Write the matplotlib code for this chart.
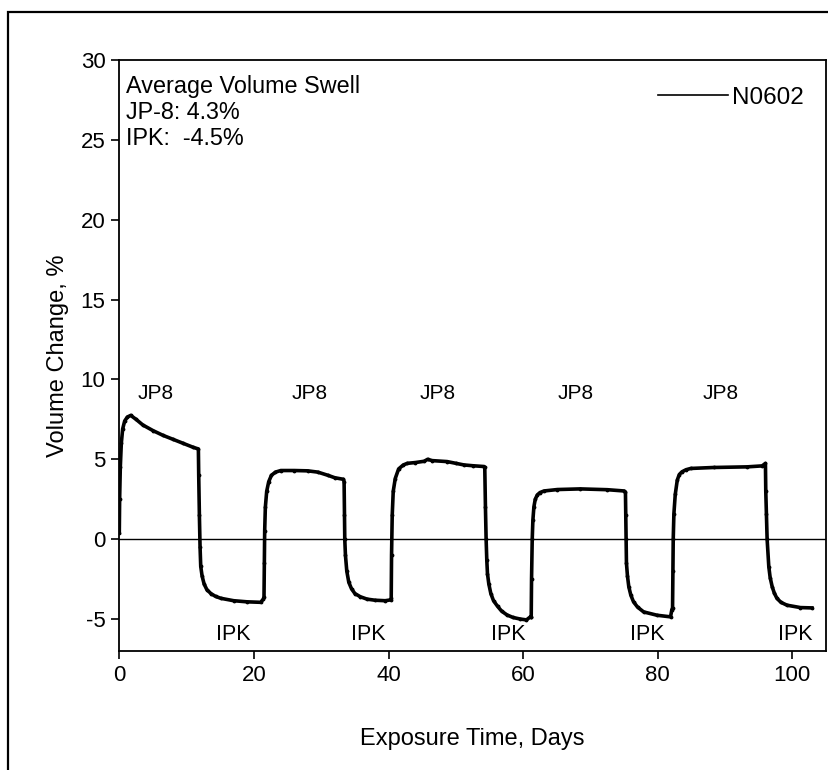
import matplotlib.pyplot as plt
from matplotlib.lines import Line2D
from matplotlib.patches import Rectangle

plt.rcParams['font.family'] = ['Liberation Sans', 'DejaVu Sans']
plt.rcParams['axes.unicode_minus'] = False

# exposure time (days) and volume change (%), cycle by cycle
days = [
    # JP8 1
    0, 0.05, 0.15, 0.3, 0.5, 0.8, 1.2, 1.7, 2.5, 3.5, 5, 6.5, 8, 9.5, 11, 11.75,
    # IPK 1
    11.8, 11.9, 12.0, 12.1, 12.3, 12.6, 13.0, 13.6, 14.3, 15.1, 17.0, 19.0, 21.0, 21.4,
    # JP8 2
    21.5, 21.55, 21.6, 21.7, 21.9, 22.2, 22.6, 23.2, 24, 26, 28, 29.5, 31, 32, 33.3,
    # IPK 2
    33.4, 33.45, 33.5, 33.6, 33.8, 34.1, 34.5, 35.0, 35.8, 36.8, 38, 39.5, 40.3,
    # JP8 3
    40.4, 40.45, 40.55, 40.7, 41.0, 41.5, 42.2, 42.8, 44, 45.3, 45.8, 46.5, 48.7, 50, 51.2, 52.5, 54.2,
    # IPK 3
    54.3, 54.4, 54.5, 54.6, 54.7, 54.9, 55.2, 55.6, 56.2, 56.8, 57.6, 58.5, 59.6, 60.5, 61.1,
    # JP8 4
    61.2, 61.25, 61.35, 61.45, 61.6, 61.8, 62.1, 62.5, 63.1, 65.1, 68.5, 72.5, 75.0, 75.2,
    # IPK 4
    75.25, 75.3, 75.35, 75.5, 75.7, 76.0, 76.4, 77.0, 77.9, 79.9, 81.9, 82.1,
    # JP8 5
    82.2, 82.25, 82.3, 82.4, 82.6, 82.9, 83.2, 83.6, 84.2, 84.9, 88.3, 93.3, 95.5, 96.0,
    # IPK 5
    96.05, 96.15, 96.25, 96.5, 96.7, 97.0, 97.3, 97.7, 98.3, 99.2, 101.2, 102.9,
]
volume = [
    0.4, 2.5, 4.5, 6.0, 6.9, 7.4, 7.65, 7.75, 7.5, 7.15, 6.8, 6.5, 6.25, 6.0, 5.75, 5.65,
    4.0, 1.5, -0.5, -1.7, -2.3, -2.8, -3.15, -3.4, -3.58, -3.7, -3.85, -3.92, -3.95, -3.75,
    -3.6, -1.5, 0.5, 2.0, 3.0, 3.6, 4.0, 4.2, 4.3, 4.3, 4.28, 4.2, 4.0, 3.85, 3.75,
    3.6, 1.5, 0.0, -1.0, -2.0, -2.7, -3.1, -3.4, -3.6, -3.75, -3.82, -3.85, -3.8,
    -3.7, -1.0, 1.5, 3.0, 3.8, 4.4, 4.65, 4.75, 4.8, 4.88, 5.0, 4.92, 4.86, 4.75, 4.65, 4.6, 4.55,
    4.5, 2.0, 0.0, -1.3, -2.15, -2.8, -3.4, -3.85, -4.2, -4.5, -4.74, -4.9, -5.0, -5.05, -4.85,
    -4.9, -2.5, 0.0, 1.2, 2.03, 2.5, 2.77, 2.92, 3.02, 3.11, 3.15, 3.1, 3.02, 2.95,
    1.5, 0.0, -1.5, -2.3, -2.98, -3.5, -3.92, -4.25, -4.55, -4.76, -4.86, -4.4,
    -4.3, -2.0, 0.0, 1.6, 2.8, 3.7, 4.05, 4.22, 4.35, 4.43, 4.49, 4.53, 4.59, 4.74,
    3.0, 1.6, 0.0, -1.72, -2.4, -2.97, -3.35, -3.7, -3.95, -4.13, -4.28, -4.3,
]

jp8_x = [5.4, 28.3, 47.3, 67.8, 89.3]
ipk_x = [17.0, 37.0, 57.8, 78.5, 100.4]
summary = ["Average Volume Swell", "JP-8: 4.3%", "IPK:  -4.5%"]

fig = plt.figure(figsize=(8.29, 7.70), dpi=100)
ax = fig.add_axes([0.1439, 0.1545, 0.8525, 0.7676])

# outer frame of the figure (only top and left show)
fig.patches.append(Rectangle((0.0097, -0.1), 1.2, 1.1 - 0.016, transform=fig.transFigure,
                             fill=False, edgecolor='black', linewidth=1.6, clip_on=False))

ax.plot(days, volume, color='black', linewidth=2.6, marker='.', markersize=3.5)
ax.axhline(0, color='black', linewidth=1.0)

for x in jp8_x:
    ax.text(x, 9.1, "JP8", ha='center', va='center', fontsize=15)
for x in ipk_x:
    ax.text(x, -5.95, "IPK", ha='center', va='center', fontsize=15.5)

ax.text(0.0095, 0.975, "\n".join(summary), transform=ax.transAxes, ha='left', va='top',
        fontsize=16.8, linespacing=1.18)

handle = Line2D([0], [0], color='black', linewidth=1.2)
ax.legend([handle], ["N0602"], loc='upper right', bbox_to_anchor=(0.968, 0.955),
          frameon=False, fontsize=17.5, handlelength=2.9, handletextpad=0.15,
          borderpad=0, borderaxespad=0)

ax.set_xlim(0, 105)
ax.set_ylim(-7, 30)
ax.set_xticks([0, 20, 40, 60, 80, 100])
ax.set_yticks([-5, 0, 5, 10, 15, 20, 25, 30])
ax.tick_params(direction='out', length=6, width=1.2, labelsize=16, pad=4)
for s in ax.spines.values():
    s.set_linewidth(1.3)

ax.set_xlabel("Exposure Time, Days", fontsize=17, labelpad=30)
ax.set_ylabel("Volume Change, %", fontsize=17, labelpad=8)

fig.savefig("out.png", dpi=100)
